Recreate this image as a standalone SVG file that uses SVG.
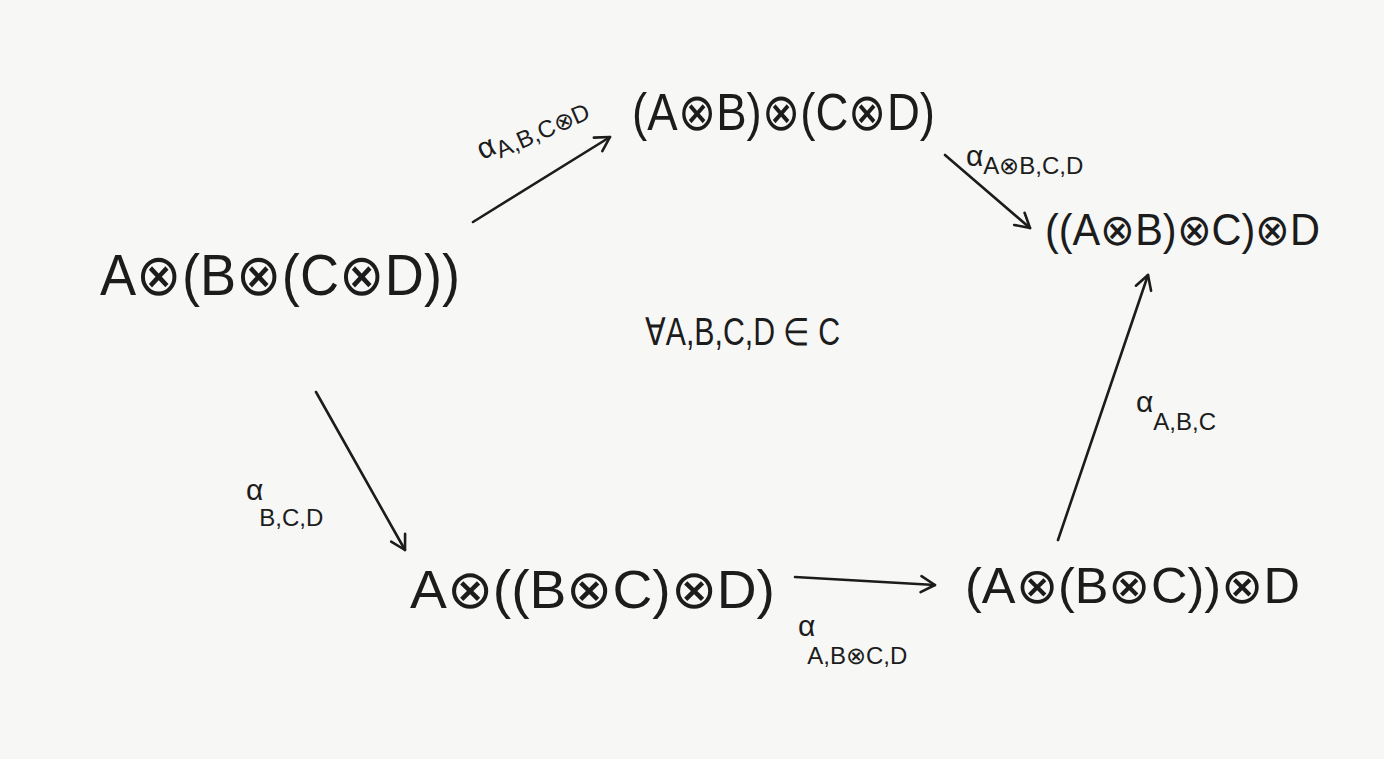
<svg xmlns="http://www.w3.org/2000/svg" width="1384" height="759" viewBox="0 0 1384 759">
<style>
.n{font-family:"Liberation Sans",sans-serif;fill:#1c1c1c}
.l{font-family:"Liberation Sans",sans-serif;fill:#1c1c1c;font-size:30px}
.s{font-size:24px}
.e{stroke:#1c1c1c;stroke-width:2.6;fill:none;stroke-linecap:round}
</style>
<defs>
<marker id="ah" viewBox="0 0 20 20" refX="18" refY="10" markerWidth="20" markerHeight="20" markerUnits="userSpaceOnUse" orient="auto">
<path d="M4,2 L18,10 L4,18" stroke="#1c1c1c" stroke-width="2.6" fill="none" stroke-linecap="round" stroke-linejoin="round"/>
</marker>
</defs>
<rect width="1384" height="759" fill="#f7f7f6"/>
<g id="connectors">
<line class="e" x1="473" y1="222" x2="610" y2="137" marker-end="url(#ah)"/>
<line class="e" x1="945" y1="155" x2="1030" y2="228" marker-end="url(#ah)"/>
<line class="e" x1="316" y1="392" x2="405" y2="550" marker-end="url(#ah)"/>
<line class="e" x1="795" y1="577" x2="935" y2="585" marker-end="url(#ah)"/>
<line class="e" x1="1058" y1="540" x2="1148" y2="275" marker-end="url(#ah)"/>
<text class="l" transform="translate(482,160) rotate(-24)">α<tspan class="s" dy="6">A,B,C⊗D</tspan></text>
<text class="l" x="966" y="166">α<tspan class="s" dy="8">A⊗B,C,D</tspan></text>
<text class="l" x="246" y="500">α<tspan class="s" dx="-4" dy="26">B,C,D</tspan></text>
<text class="l" x="798" y="636">α<tspan class="s" dx="-8" dy="28">A,B⊗C,D</tspan></text>
<text class="l" x="1136" y="412">α<tspan class="s" dy="18">A,B,C</tspan></text>
</g>
<g id="n1"><text class="n" x="100" y="295" font-size="58" textLength="360" lengthAdjust="spacingAndGlyphs">A⊗(B⊗(C⊗D))</text></g>
<g id="n2"><text class="n" x="632" y="130" font-size="52" textLength="303" lengthAdjust="spacingAndGlyphs">(A⊗B)⊗(C⊗D)</text></g>
<g id="n3"><text class="n" x="1045" y="245" font-size="44" textLength="275" lengthAdjust="spacingAndGlyphs">((A⊗B)⊗C)⊗D</text></g>
<g id="n4"><text class="n" x="410" y="608" font-size="54" textLength="365" lengthAdjust="spacingAndGlyphs">A⊗((B⊗C)⊗D)</text></g>
<g id="n5"><text class="n" x="965" y="603" font-size="50" textLength="335" lengthAdjust="spacingAndGlyphs">(A⊗(B⊗C))⊗D</text></g>
<g id="forall"><text class="n" x="645" y="345" font-size="38" textLength="195" lengthAdjust="spacingAndGlyphs">∀A,B,C,D ∈ C</text></g>
</svg>
